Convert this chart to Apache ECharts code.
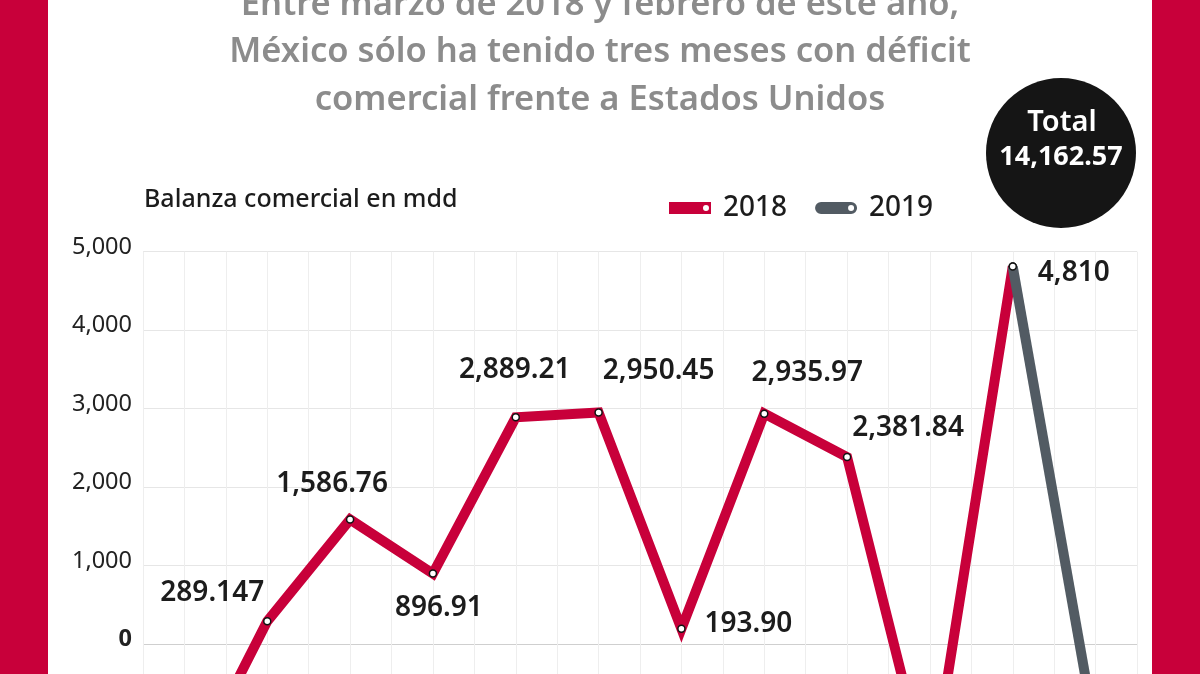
<!DOCTYPE html>
<html>
<head>
<meta charset="utf-8">
<script src="https://cdn.jsdelivr.net/npm/echarts@6/dist/echarts.min.js"></script>
<style>html,body{margin:0;padding:0;background:#fff}#c{width:1200px;height:674px}</style>
</head>
<body>
<div id="c"></div>
<script>
// ---- data ----
const months = ['Mar 2018','Abr 2018','May 2018','Jun 2018','Jul 2018','Ago 2018','Sep 2018','Oct 2018','Nov 2018','Dic 2018','Ene 2019','Feb 2019'];
const values = [-1786.62, 289.147, 1586.76, 896.91, 2889.21, 2950.45, 193.90, 2935.97, 2381.84, -1834, 4810, -1151];
const valueLabels = ['-1,786.62','289.147','1,586.76','896.91','2,889.21','2,950.45','193.90','2,935.97','2,381.84','-1,834','4,810','-1,151'];
const series2018Range = [0, 10];   // indices drawn in the 2018 (red) line
const series2019Range = [10, 11];  // indices drawn in the 2019 (grey) line
const yTicks = [-2000, 5000, 1000]; // min, max, interval
const titleLines = ['Entre marzo de 2018 y febrero de este año,', 'México sólo ha tenido tres meses con déficit', 'comercial frente a Estados Unidos'];
const yAxisName = 'Balanza comercial en mdd';
const legendNames = ['2018', '2019'];

// ---- styles ----
const RED = '#C8003A';
const GREY = '#525B63';
const FONT = 'Noto Sans';
const labelOffsets = [[0,40],[-55,-28],[-18,-35],[6,34],[-1,-47],[60,-41],[67,-5],[43,-41],[61,-29],[0,40],[61,6],[0,40]];

const total = values.reduce((a, b) => a + b, 0);
const totalText = total.toLocaleString('en-US', {minimumFractionDigits: 2, maximumFractionDigits: 2});

function buildData(range, withLabels) {
  return values.map((v, i) => {
    if (i < range[0] || i > range[1]) return null;
    const item = {value: v};
    if (withLabels) {
      item.label = {show: true, offset: labelOffsets[i], formatter: () => valueLabels[i]};
    }
    return item;
  });
}
const d2018 = buildData(series2018Range, true);
const d2019 = buildData(series2019Range, false);
d2019[11].label = {show: true, offset: labelOffsets[11], formatter: () => valueLabels[11]};

const chart = echarts.init(document.getElementById('c'), null, {renderer: 'canvas'});
const seriesLabel = {
  position: 'inside', align: 'center', verticalAlign: 'middle',
  fontFamily: FONT, fontSize: 28, fontWeight: 600, color: '#1c1c1c'
};
const iconRed = 'path://M0,0 L42,0 L42,12 L0,12 Z M37,3 A3,3 0 1,0 37,9 A3,3 0 1,0 37,3 Z';
const iconGrey = 'path://M6,0 L36,0 A6,6 0 0,1 36,12 L6,12 A6,6 0 0,1 6,0 Z M36,3 A3,3 0 1,0 36,9 A3,3 0 1,0 36,3 Z';

chart.setOption({
  backgroundColor: '#ffffff',
  animation: false,
  title: {
    text: titleLines.join('\n'),
    left: 'center', top: -24,
    textStyle: {fontFamily: FONT, fontSize: 34.5, fontWeight: 600, color: '#8c8c8c', lineHeight: 47.5}
  },
  legend: {
    left: 669, top: 194, padding: 0, itemWidth: 42, itemHeight: 12, itemGap: 28,
    textStyle: {fontFamily: FONT, fontSize: 28, fontWeight: 500, color: '#1c1c1c', padding: [0,0,0,7]},
    data: [
      {name: legendNames[0], icon: iconRed, itemStyle: {color: RED, borderWidth: 0}},
      {name: legendNames[1], icon: iconGrey, itemStyle: {color: GREY, borderWidth: 0}}
    ]
  },
  grid: {left: 143, right: 63, top: 251.7, bottom: -126.9, outerBoundsMode: 'none', containLabel: false},
  xAxis: [
    {type: 'category', data: months, boundaryGap: true,
     axisLine: {show: false}, axisTick: {show: false}, axisLabel: {show: false}, splitLine: {show: false}},
    {type: 'value', min: 0, max: 24, interval: 1, position: 'bottom',
     axisLine: {show: false}, axisTick: {show: false}, axisLabel: {show: false},
     splitLine: {show: true, lineStyle: {color: '#eeeeee', width: 1}}}
  ],
  yAxis: {
    type: 'value', min: yTicks[0], max: yTicks[1], interval: yTicks[2],
    axisLine: {show: false}, axisTick: {show: false},
    axisLabel: {
      margin: 11, fontFamily: FONT, fontSize: 23.5, color: '#222', padding: [0,0,9,0],
      formatter: v => v === 0 ? '{b|0}' : v.toLocaleString('en-US'),
      rich: {b: {fontFamily: FONT, fontSize: 23.5, fontWeight: 'bold', color: '#222'}}
    },
    splitLine: {show: true, lineStyle: {width: 1, color: ['#e6e6e6','#e6e6e6','#cfcfcf','#e6e6e6','#e6e6e6','#e6e6e6','#e6e6e6','#e6e6e6']}}
  },
  graphic: [
    {type: 'rect', left: 0, top: 0, shape: {width: 48, height: 674}, style: {fill: RED}},
    {type: 'rect', left: 1152, top: 0, shape: {width: 48, height: 674}, style: {fill: RED}},
    {type: 'text', left: 144, top: 187, style: {text: yAxisName, fontFamily: FONT, fontSize: 25, fontWeight: 500, fill: '#1c1c1c'}},
    {type: 'circle', shape: {cx: 1061, cy: 153, r: 75}, style: {fill: '#151515'}},
    {type: 'text', x: 1062, y: 123, style: {text: 'Total', align: 'center', verticalAlign: 'middle', fontFamily: FONT, fontSize: 29, fontWeight: 600, fill: '#fff'}},
    {type: 'text', x: 1061, y: 157, style: {text: totalText, align: 'center', verticalAlign: 'middle', fontFamily: FONT, fontSize: 27, fontWeight: 700, fill: '#fff'}}
  ],
  series: [
    {name: legendNames[0], type: 'line', data: d2018, color: RED, z: 3,
     lineStyle: {color: RED, width: 10, join: 'miter', miterLimit: 10, cap: 'butt'},
     symbol: 'circle', symbolSize: 7, showSymbol: true,
     itemStyle: {color: '#fff', borderColor: '#111', borderWidth: 1.5},
     label: seriesLabel, emphasis: {disabled: true}},
    {name: legendNames[1], type: 'line', data: d2019, color: GREY, z: 4,
     lineStyle: {color: GREY, width: 10, join: 'miter', miterLimit: 10, cap: 'butt'},
     symbol: 'circle', symbolSize: 7, showSymbol: true,
     itemStyle: {color: '#fff', borderColor: '#111', borderWidth: 1.5},
     label: seriesLabel, emphasis: {disabled: true}}
  ]
});
</script>
</body>
</html>
